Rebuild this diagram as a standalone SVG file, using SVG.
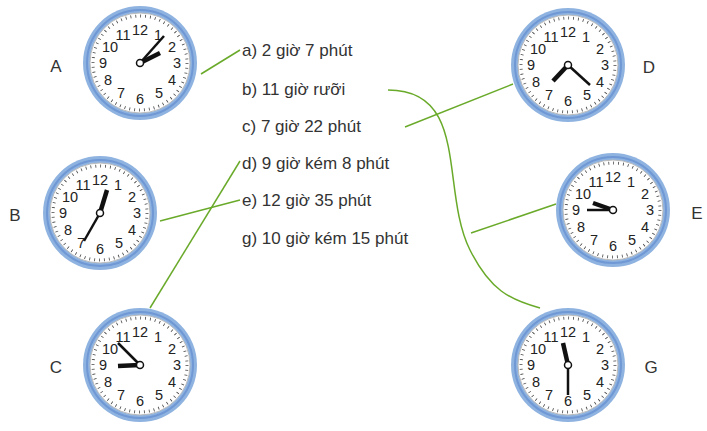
<svg xmlns="http://www.w3.org/2000/svg" width="707" height="431" viewBox="0 0 707 431">
<style>
.n{font-family:"Liberation Sans",Arial,sans-serif;font-size:14.5px;fill:#222;text-anchor:middle}
.lb{font-family:"Liberation Sans",Arial,sans-serif;font-size:17px;fill:#333}
.L{font-family:"Liberation Sans",Arial,sans-serif;font-size:17px;fill:#333;text-anchor:middle}
.h{stroke:#111;stroke-width:4.5;stroke-linecap:butt}
.m{stroke:#111;stroke-width:2.5}
.c{fill:none;stroke:#6aaa2a;stroke-width:1.5}
</style>
<defs>
<g id="face">
<circle r="57" fill="#8fb3e0"/>
<circle r="53" fill="none" stroke="#6f98d4" stroke-width="2"/>
<circle r="50" fill="#fff" stroke="#bbb" stroke-width="1"/>
<circle r="47" fill="none" stroke="#444" stroke-width="3" stroke-dasharray="0.8 4.12"/>
<text class="n" x="0" y="-28">12</text><text class="n" x="18" y="-23">1</text><text class="n" x="32" y="-11">2</text>
<text class="n" x="37" y="5">3</text><text class="n" x="32" y="22">4</text><text class="n" x="19" y="35">5</text>
<text class="n" x="0" y="41">6</text><text class="n" x="-19" y="35">7</text><text class="n" x="-32" y="22">8</text>
<text class="n" x="-37" y="5">9</text><text class="n" x="-30" y="-11">10</text><text class="n" x="-17" y="-23">11</text>
</g>
</defs>
<g id="connectors">
<line class="c" x1="201" y1="74" x2="240" y2="50"/>
<line class="c" x1="160" y1="221" x2="240" y2="200"/>
<line class="c" x1="150" y1="308" x2="240" y2="161"/>
<line class="c" x1="513" y1="84" x2="405" y2="127"/>
<line class="c" x1="556" y1="204" x2="471" y2="233"/>
<path class="c" d="M388 90 C470 90 440 190 470 250 C490 290 510 300 540 308"/>
</g>
<g id="clockA" transform="translate(140,63)"><use href="#face"/><line class="h" x1="0" y1="0" x2="20" y2="-10"/><line class="m" x1="0" y1="0" x2="24" y2="-27"/><circle r="3.5" fill="#fff" stroke="#111" stroke-width="1.5"/></g>
<g id="clockB" transform="translate(100,213)"><use href="#face"/><line class="h" x1="0" y1="0" x2="7" y2="-23"/><line class="m" x1="0" y1="0" x2="-16" y2="28"/><circle r="3.5" fill="#fff" stroke="#111" stroke-width="1.5"/></g>
<g id="clockC" transform="translate(140,365)"><use href="#face"/><line class="h" x1="0" y1="0" x2="-22" y2="1"/><line class="m" x1="0" y1="0" x2="-22" y2="-22"/><circle r="3.5" fill="#fff" stroke="#111" stroke-width="1.5"/></g>
<g id="clockD" transform="translate(568,65)"><use href="#face"/><line class="h" x1="0" y1="0" x2="-15" y2="16"/><line class="m" x1="0" y1="0" x2="22" y2="20"/><circle r="3.5" fill="#fff" stroke="#111" stroke-width="1.5"/></g>
<g id="clockE" transform="translate(613,210)"><use href="#face"/><line class="h" x1="0" y1="0" x2="-20" y2="-7"/><line class="m" x1="0" y1="0" x2="-26" y2="0"/><circle r="3.5" fill="#fff" stroke="#111" stroke-width="1.5"/></g>
<g id="clockG" transform="translate(568,365)"><use href="#face"/><line class="h" x1="0" y1="0" x2="-5" y2="-22"/><line class="m" x1="0" y1="0" x2="0" y2="30"/><circle r="3.5" fill="#fff" stroke="#111" stroke-width="1.5"/></g>
<g id="labels">
<text class="L" x="56" y="72">A</text><text class="L" x="15" y="221">B</text><text class="L" x="56" y="373">C</text>
<text class="L" x="649" y="73">D</text><text class="L" x="697" y="219">E</text><text class="L" x="651" y="373">G</text>
<text class="lb" x="242" y="56">a) 2 giờ 7 phút</text>
<text class="lb" x="242" y="95">b) 11 giờ rưỡi</text>
<text class="lb" x="242" y="132">c) 7 giờ 22 phút</text>
<text class="lb" x="242" y="169">d) 9 giờ kém 8 phút</text>
<text class="lb" x="242" y="206">e) 12 giờ 35 phút</text>
<text class="lb" x="242" y="244">g) 10 giờ kém 15 phút</text>
</g>
</svg>
